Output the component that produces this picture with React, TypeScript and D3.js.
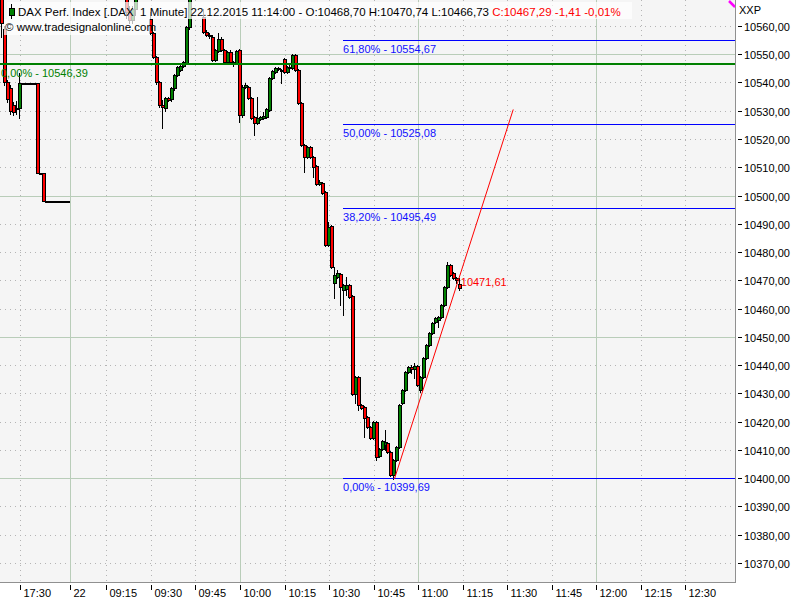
import React from 'react';
import * as d3 from 'd3';

// ---------- data ----------
// candles: [slot (minutes from 09:00 on 22.12., previous session negative), open, high, low, close]
const prevDayCandles: [number, number, number, number, number][] = [
  [-21, 10578, 10580, 10569, 10571],
  [-20, 10571, 10573, 10556, 10561],
  [-19, 10559, 10560, 10539, 10540],
  [-18, 10540, 10541, 10533, 10534],
  [-17, 10538, 10539, 10529, 10530],
  [-16, 10532, 10533, 10528.5, 10529.5],
  [-15, 10531, 10533.5, 10529, 10530.5],
  [-14, 10531, 10543.4, 10527.5, 10539.8],
  [-13, 10539.8, 10539.8, 10539.8, 10539.8],
  [-12, 10539.8, 10539.8, 10539.8, 10539.8],
  [-11, 10539.8, 10539.8, 10539.8, 10539.8],
  [-10, 10539.8, 10539.8, 10539.8, 10539.8],
  [-9, 10539.8, 10539.8, 10539.8, 10539.8],
  [-8, 10539.8, 10539.8, 10508, 10508],
  [-7, 10508, 10508, 10508, 10508],
  [-6, 10508, 10508, 10498, 10498],
  [-5, 10498, 10498, 10498, 10498],
  [-4, 10498, 10498, 10498, 10498],
  [-3, 10498, 10498, 10498, 10498],
  [-2, 10498, 10498, 10498, 10498],
  [-1, 10498, 10498, 10498, 10498],
  [0, 10498, 10498, 10498, 10498],
  [1, 10498, 10498, 10498, 10498],
  [2, 10498, 10498, 10498, 10498],
];

const dayCandles: [number, number, number, number, number][] = [
  [3, 10585, 10592, 10580, 10590],
  [4, 10590, 10596, 10587, 10594],
  [5, 10594, 10600, 10591, 10598],
  [6, 10598, 10603, 10595, 10597],
  [7, 10597, 10599, 10590, 10592],
  [8, 10592, 10595, 10588, 10593],
  [9, 10593, 10598, 10591, 10596],
  [10, 10596, 10597, 10589, 10590],
  [11, 10590, 10592, 10584, 10586],
  [12, 10586, 10590, 10583, 10588],
  [13, 10588, 10591, 10584, 10585],
  [14, 10585, 10587, 10579, 10581],
  [15, 10581, 10584, 10577, 10583],
  [16, 10583, 10586, 10580, 10582],
  [17, 10582, 10583, 10576, 10578],
  [18, 10578, 10581, 10574, 10580],
  [19, 10580, 10582, 10575, 10576],
  [20, 10576, 10579, 10572, 10574],
  [21, 10574, 10577, 10571, 10572],
  [22, 10572, 10574, 10563, 10565],
  [23, 10565, 10567, 10561, 10562],
  [24, 10562, 10567, 10561, 10566],
  [25, 10566, 10573, 10564, 10571],
  [26, 10571, 10578, 10570, 10576],
  [27, 10576, 10580, 10573, 10575],
  [28, 10575, 10577, 10571, 10573],
  [29, 10573, 10575, 10569.5, 10571],
  [30, 10562.5, 10565, 10557, 10557.5],
  [31, 10557.5, 10558, 10548.5, 10549],
  [32, 10549, 10549.5, 10539.5, 10540.2],
  [33, 10540, 10540.5, 10531.5, 10532],
  [34, 10532, 10533.8, 10523.9, 10531.3],
  [35, 10531, 10535, 10530, 10534.5],
  [36, 10534.5, 10535, 10533.5, 10533.8],
  [37, 10534, 10538.5, 10533.5, 10538],
  [38, 10538, 10543, 10537.5, 10542.7],
  [39, 10542.7, 10545.8, 10542.3, 10545.5],
  [40, 10544.4, 10546.5, 10544, 10546],
  [41, 10546, 10547.6, 10545.5, 10547.3],
  [42, 10547, 10560, 10546.5, 10559.6],
  [43, 10559.6, 10574, 10559, 10572],
  [44, 10572, 10580, 10570, 10578],
  [45, 10578, 10584, 10576, 10582],
  [46, 10582, 10583, 10575, 10576],
  [47, 10576, 10577, 10569.8, 10570],
  [48, 10563.2, 10566, 10557.5, 10557.9],
  [49, 10557.9, 10558.5, 10556.5, 10556.8],
  [50, 10556.8, 10557.5, 10555.8, 10556.5],
  [51, 10556.1, 10556.8, 10547.6, 10548],
  [52, 10548, 10552, 10547.5, 10551.5],
  [53, 10551.2, 10557.5, 10550.8, 10555.4],
  [54, 10555.4, 10556, 10551, 10551.5],
  [55, 10551.5, 10552, 10546.8, 10547.3],
  [56, 10547.3, 10551.2, 10546.9, 10550.8],
  [57, 10550.8, 10551.5, 10546.9, 10547.3],
  [58, 10547.3, 10547.6, 10545.8, 10546.6],
  [59, 10546.9, 10551.5, 10546.5, 10551.2],
  [60, 10551.5, 10552, 10526, 10528.5],
  [61, 10528.5, 10539, 10527.8, 10538.4],
  [62, 10538.4, 10539.8, 10538, 10539.1],
  [63, 10538.4, 10538.8, 10534.2, 10534.5],
  [64, 10534.5, 10535, 10527, 10527.4],
  [65, 10527.8, 10528.2, 10521.4, 10525.7],
  [66, 10525.7, 10534.9, 10525.3, 10527.4],
  [67, 10527.1, 10528.2, 10526.7, 10527.8],
  [68, 10527.4, 10529.6, 10527, 10528.1],
  [69, 10527.8, 10531, 10527.4, 10530.6],
  [70, 10530.3, 10542, 10529.9, 10541.6],
  [71, 10541.6, 10544.5, 10541.2, 10544.1],
  [72, 10543.7, 10545.5, 10543.4, 10545.1],
  [73, 10545.1, 10545.5, 10544.4, 10544.8],
  [74, 10544.4, 10544.8, 10539.8, 10544.2],
  [75, 10548.3, 10548.7, 10543.4, 10543.7],
  [76, 10543.7, 10545.8, 10543.4, 10545.5],
  [77, 10545.5, 10546.9, 10544.4, 10545.1],
  [78, 10545.1, 10550, 10544.8, 10549.7],
  [79, 10549.7, 10550.2, 10544.1, 10544.4],
  [80, 10544.4, 10544.8, 10532.4, 10532.7],
  [81, 10532.7, 10533, 10517.6, 10517.9],
  [82, 10517.9, 10518.2, 10508.3, 10513.6],
  [83, 10513.6, 10517.6, 10513.3, 10517.2],
  [84, 10517.2, 10517.6, 10513.3, 10513.6],
  [85, 10513.6, 10514, 10506.5, 10510.1],
  [86, 10510.4, 10510.8, 10503.8, 10504.1],
  [87, 10504.1, 10505.5, 10503.7, 10504.8],
  [88, 10504.4, 10504.8, 10500.6, 10500.9],
  [89, 10501.2, 10501.6, 10482.2, 10482.5],
  [90, 10482.5, 10490.6, 10482.2, 10488.8],
  [91, 10489.2, 10489.6, 10474.4, 10474.7],
  [92, 10469, 10474.7, 10463.7, 10471.9],
  [93, 10471.2, 10473.5, 10470.8, 10472.6],
  [94, 10472.2, 10472.6, 10461.2, 10467.6],
  [95, 10466.5, 10468.7, 10457.7, 10468.3],
  [96, 10467, 10471.2, 10464.8, 10468.5],
  [97, 10468.3, 10468.7, 10463.8, 10464.1],
  [98, 10464.4, 10464.8, 10429.4, 10429.7],
  [99, 10429.7, 10436.2, 10426.5, 10435.8],
  [100, 10435.8, 10436.2, 10424.1, 10425.8],
  [101, 10425.8, 10426.2, 10424.5, 10424.8],
  [102, 10425.1, 10425.5, 10414.5, 10421.2],
  [103, 10421.6, 10422, 10417.8, 10418.1],
  [104, 10418.1, 10418.5, 10413.9, 10414.2],
  [105, 10414.2, 10420.2, 10413.9, 10419.8],
  [106, 10419.8, 10420.2, 10406.4, 10407.4],
  [107, 10407.8, 10410.7, 10407.4, 10410.3],
  [108, 10410.3, 10413.5, 10410, 10413.1],
  [109, 10411.7, 10417, 10409.9, 10412.7],
  [110, 10412.4, 10412.8, 10408.9, 10409.2],
  [111, 10409.2, 10409.6, 10400.8, 10401.1],
  [112, 10401.1, 10406.8, 10399.69, 10406.4],
  [113, 10406.4, 10411.4, 10406, 10411],
  [114, 10411, 10426.2, 10410.6, 10425.8],
  [115, 10426.5, 10431.6, 10426.1, 10431.2],
  [116, 10431.2, 10437.9, 10430.8, 10437.5],
  [117, 10437.5, 10439.7, 10437.1, 10439.3],
  [118, 10439.3, 10440, 10437.2, 10438.6],
  [119, 10438.6, 10440.7, 10435.4, 10439.6],
  [120, 10439.6, 10440, 10432.6, 10432.9],
  [121, 10431.2, 10436.2, 10430.4, 10435.8],
  [122, 10435.8, 10442.9, 10435.4, 10442.5],
  [123, 10442.5, 10447.5, 10442.1, 10447.1],
  [124, 10447.1, 10451.7, 10446.7, 10451.3],
  [125, 10451.3, 10455.3, 10450.9, 10454.9],
  [126, 10455.2, 10457, 10454.8, 10456.6],
  [127, 10455.9, 10457.4, 10453.5, 10457],
  [128, 10457, 10461.6, 10456.6, 10461.2],
  [129, 10461.2, 10468, 10460.8, 10467.6],
  [130, 10467.6, 10476.5, 10467.2, 10475.4],
  [131, 10475.4, 10475.8, 10471.5, 10471.9],
  [132, 10472.6, 10473, 10470.4, 10470.8],
  [133, 10470.8, 10471.2, 10469, 10470.1],
  [134, 10468.7, 10470.74, 10466.73, 10467.29],
];

const priceTicks = [10370, 10380, 10390, 10400, 10410, 10420, 10430, 10440, 10450, 10460, 10470, 10480, 10490, 10500, 10510, 10520, 10530, 10540, 10550, 10560];
const timeTicks: { label: string; slot: number; major: boolean }[] = [
  { label: '17:30', slot: -14, major: false },
  { label: '22', slot: 2.7, major: true },
  { label: '09:15', slot: 15, major: false },
  { label: '09:30', slot: 30, major: false },
  { label: '09:45', slot: 45, major: false },
  { label: '10:00', slot: 60, major: true },
  { label: '10:15', slot: 75, major: false },
  { label: '10:30', slot: 90, major: false },
  { label: '10:45', slot: 105, major: false },
  { label: '11:00', slot: 120, major: true },
  { label: '11:15', slot: 135, major: false },
  { label: '11:30', slot: 150, major: false },
  { label: '11:45', slot: 165, major: false },
  { label: '12:00', slot: 180, major: true },
  { label: '12:15', slot: 195, major: false },
  { label: '12:30', slot: 210, major: false },
];

const fibHigh = 10650.47;
const fibLow = 10399.69;
const fibLevels = [0.618, 0.5, 0.382, 0];
const fibStartSlot = 94.7;
const greenLevel = 10546.39;
const trendStart = { slot: 112, price: 10399.69 };
const trendEnd = { slot: 134, price: 10471.61 };
const trendExtendSlot = 152;

// ---------- layout ----------
const PLOT_R = 735;
const PLOT_B = 582;
const xScale = d3.scaleLinear().domain([-20.81, 226.67]).range([0, PLOT_R]);
const yScale = d3.scaleLinear().domain([10363.2, 10569.2]).range([PLOT_B, 0]);

const num = (v: number) => d3.format('.2f')(v).replace('.', ',').replace('\u2212', '-');
const FONT = '"Liberation Sans", Arial, sans-serif';

export default function App() {
  const all = [...prevDayCandles, ...dayCandles];
  const last = dayCandles[dayCandles.length - 1];
  const [, lo, lh, ll, lc] = last;
  const chg = lc - lo;
  const pct = (chg / lo) * 100;

  const slope = (trendEnd.price - trendStart.price) / (trendEnd.slot - trendStart.slot);
  const trendEndPrice = trendStart.price + slope * (trendExtendSlot - trendStart.slot);
  const greenY = Math.floor(yScale(greenLevel));

  return (
    <svg width={800} height={600} style={{ position: 'absolute', left: 0, top: 0, fontFamily: FONT }}>
      <defs>
        <clipPath id="plot">
          <rect x={0} y={0} width={PLOT_R} height={PLOT_B} />
        </clipPath>
      </defs>
      <rect x={0} y={0} width={800} height={600} fill="#ffffff" />
      <rect x={0} y={0} width={PLOT_R} height={PLOT_B} fill="#f5f5f5" />

      {/* grid */}
      <g shapeRendering="crispEdges">
        {priceTicks.map((p) => {
          const y = Math.round(yScale(p)) + 0.5;
          const major = p % 50 === 0;
          return (
            <line key={'h' + p} x1={0} x2={PLOT_R} y1={y} y2={y}
              stroke={major ? '#b9cdb9' : '#b4b4b4'} strokeDasharray={major ? undefined : '1,4'} />
          );
        })}
        {timeTicks.map((t) => {
          const x = Math.round(xScale(t.slot)) + 0.5;
          return (
            <line key={'v' + t.label} x1={x} x2={x} y1={0} y2={PLOT_B}
              stroke={t.major ? '#b9cdb9' : '#b4b4b4'} strokeDasharray={t.major ? undefined : '1,4'} />
          );
        })}
      </g>

      {/* candles */}
      <g clipPath="url(#plot)" shapeRendering="crispEdges">
        {all.map(([s, o, h, l, c]) => {
          const cx = Math.round(xScale(s));
          const yO = yScale(o), yC = yScale(c);
          const top = Math.round(Math.min(yO, yC));
          const bot = Math.round(Math.max(yO, yC));
          const up = c >= o;
          return (
            <g key={'c' + s}>
              <line x1={cx - 0.5} x2={cx - 0.5} y1={Math.round(yScale(h))} y2={Math.round(yScale(l)) + 1} stroke="#000" />
              {bot - top <= 1 ? (
                <rect x={cx - 2} y={top} width={4} height={2} fill="#000" />
              ) : (
                <rect x={cx - 1.5} y={top + 0.5} width={3} height={bot - top} fill={up ? '#008000' : '#ff0000'} stroke="#000" strokeWidth={1} />
              )}
            </g>
          );
        })}
      </g>

      {/* horizontal tools */}
      <g clipPath="url(#plot)">
        <line x1={0} x2={PLOT_R} y1={greenY} y2={greenY} stroke="#008000" strokeWidth={2} shapeRendering="crispEdges" />
        <text x={1} y={greenY + 13} fontSize={11} fill="#008000">{`0,00% - ${num(greenLevel)}`}</text>
        {fibLevels.map((lv) => {
          const price = fibLow + (fibHigh - fibLow) * lv;
          const y = Math.round(yScale(price) - 0.6) + 0.5;
          const x0 = xScale(fibStartSlot);
          return (
            <g key={'f' + lv}>
              <line x1={x0} x2={PLOT_R} y1={y} y2={y} stroke="#0000ff" strokeWidth={1} shapeRendering="crispEdges" />
              <text x={x0} y={y + 12} fontSize={11} fill="#1010ff">{`${num(lv * 100)}% - ${num(price)}`}</text>
            </g>
          );
        })}
        <line x1={xScale(trendStart.slot)} y1={yScale(trendStart.price)} x2={xScale(trendExtendSlot)} y2={yScale(trendEndPrice)} stroke="#ff0000" strokeWidth={1} />
        <text x={xScale(trendEnd.slot) + 1} y={yScale(trendEnd.price) + 10} fontSize={11} fill="#ff0000">{num(trendEnd.price)}</text>
      </g>

      {/* header */}
      <rect x={7} y={2} width={625} height={17} fill="#ffffff" fillOpacity={0.72} />
      <rect x={4} y={19} width={146} height={16} fill="#ffffff" fillOpacity={0.72} />
      <line x1={11.5} x2={11.5} y1={4} y2={19} stroke="#000" />
      <rect x={9.5} y={8.5} width={5} height={7} fill="#008000" stroke="#000" />
      <text x={18} y={16} fontSize={11.5} fill="#000" style={{ whiteSpace: 'pre' }}>
        {`DAX Perf. Index [.DAX  1 Minute] 22.12.2015 11:14:00 - O:${num(lo)} H:${num(lh)} L:${num(ll)} `}
        <tspan fill="#ff0000">{`C:${num(lc)} ${num(chg)} ${num(pct)}%`}</tspan>
      </text>
      <text x={5} y={31} fontSize={11.5} fill="#000">© www.tradesignalonline.com</text>

      {/* magenta corner marker */}
      <line x1={729} y1={1} x2={735} y2={7} stroke="#ff00ff" strokeWidth={2.5} />

      {/* frame */}
      <g shapeRendering="crispEdges">
        <line x1={PLOT_R + 0.5} x2={PLOT_R + 0.5} y1={0} y2={PLOT_B + 1} stroke="#909090" />
        <line x1={0} x2={PLOT_R + 1} y1={PLOT_B + 0.5} y2={PLOT_B + 0.5} stroke="#909090" />
      </g>

      {/* right axis */}
      <text x={739} y={14} fontSize={11} fill="#000">XXP</text>
      {priceTicks.map((p) => {
        const y = Math.round(yScale(p)) + 0.5;
        return (
          <g key={'r' + p}>
            <line x1={738} x2={742} y1={y} y2={y} stroke="#000" shapeRendering="crispEdges" />
            <text x={744} y={y + 4} fontSize={11} fill="#000">{num(p)}</text>
          </g>
        );
      })}

      {/* bottom axis */}
      {timeTicks.map((t) => {
        const x = Math.round(xScale(t.slot)) + 0.5;
        return (
          <g key={'b' + t.label}>
            <line x1={x} x2={x} y1={585} y2={590} stroke="#000" shapeRendering="crispEdges" />
            <text x={x + 3} y={597} fontSize={11} fill="#000">{t.label}</text>
          </g>
        );
      })}
    </svg>
  );
}
